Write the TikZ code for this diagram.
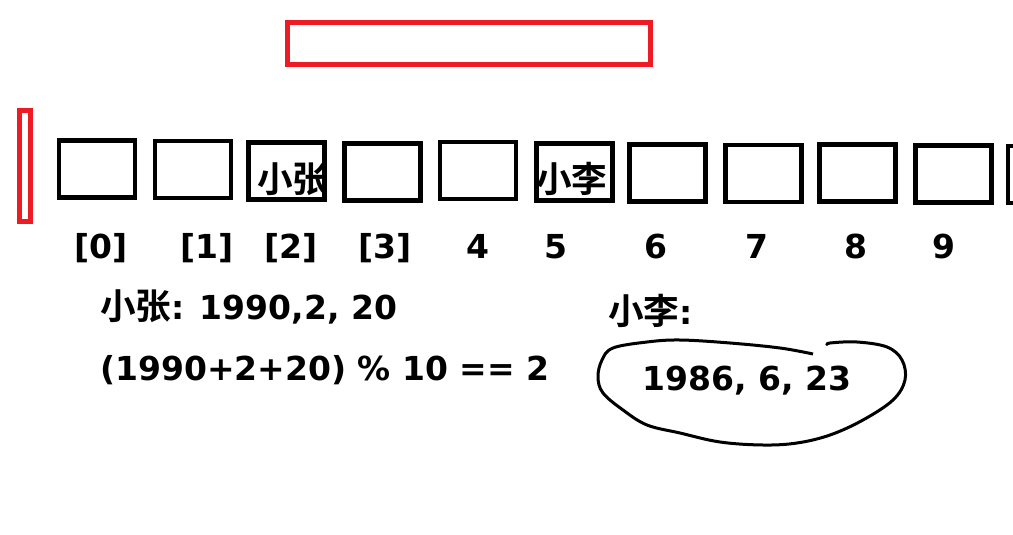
\documentclass[tikz,border=0pt]{standalone}
\usepackage{fontspec}
\setmainfont{DejaVu Sans}
\newfontfamily\cjk{Noto Sans CJK SC}[Scale=1.08,BoldFont={Noto Sans CJK SC Bold}]
\definecolor{paintred}{HTML}{ED1C24}

\begin{document}
\begin{tikzpicture}[x=1pt,y=-1pt,
		cell/.style={draw,line width=4.5pt,minimum width=76pt,minimum height=57pt,inner sep=0pt},
		idx/.style={anchor=base,font=\fontsize{33}{38}\selectfont\bfseries,inner sep=0pt},
		txt/.style={anchor=base west,font=\fontsize{33}{38}\selectfont\bfseries,inner sep=0pt},
		redbox/.style={draw=paintred,line width=5pt}]
		\useasboundingbox (0,0) rectangle (1013,535);
		\clip (0,0) rectangle (1013,535);

		\draw[redbox] (287.5,22.5) rectangle (650.5,64.5);
		\draw[redbox] (19.5,110.5) rectangle (30.5,221.5);

		\foreach \i/\x/\y in {0/97/169,1/193/169.5,2/286.5/171,3/382.5/172,4/478/170.5,5/574.5/172,6/667.5/173,7/763.5/173.5,8/857.5/173,9/953.5/174,10/1046/174.5}
			\node[cell] (c\i) at (\x,\y) {};

		\node[txt] (zhang)	at (257,192) {\cjk 小张};
		\node[txt] (li)		at (536,192) {\cjk 小李};

		\foreach \i/\x/\t in {0/101/{[0]},1/207/{[1]},2/291/{[2]},3/385/{[3]},4/478/4,5/556/5,6/656/6,7/757/7,8/856/8,9/944/9}
			\node[idx] (idx\i) at (\x,258) {\t};

		\node[txt] (zhangdate)	at (100,319) {{\cjk 小张}: 1990,2, 20};
		\node[txt] (zhanghash)	at (100,380) {(1990+2+20) \% 10 == 2};
		\node[txt] (lihead)		at (608,324) {{\cjk 小李}:};
		\node[txt] (lidate)		at (642,390) {1986, 6, 23};

		\draw[line width=3pt] plot[smooth,tension=0.6] coordinates {(813,354) (780,348) (730,343) (680,340) (647,342) (613,348) (602,360) (598,377) (603,393) (623,410) (647,425) (680,433) (720,442) (763,445) (797,443) (830,435) (863,420) (893,400) (905,380) (902,360) (887,347) (857,342) (830,343) (828,345)};
	\end{tikzpicture}
\end{document}
